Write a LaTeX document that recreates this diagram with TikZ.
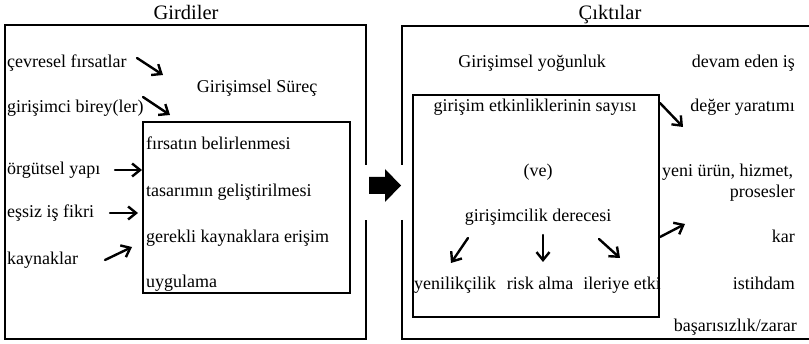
\documentclass[tikz,border=0pt]{standalone}
\usepackage{fontspec}
\setmainfont{Liberation Serif}
\usetikzlibrary{arrows.meta}
\begin{document}
\begin{tikzpicture}[x=1pt,y=-1pt,
  lbl/.style={font=\fontsize{18}{21}\selectfont, inner sep=0pt},
  ttl/.style={font=\fontsize{20.5}{24}\selectfont, inner sep=0pt},
  frame/.style={line width=2.3pt},
  flow/.style={line width=2.4pt, line cap=round, -{Straight Barb[length=8pt,width=13pt,line width=2.4pt]}}]
\useasboundingbox (0,0) rectangle (809,344);

% outer frames, opened where the block arrow passes
\draw[frame] (366,165) -- (366,25) -- (5,25) -- (5,339) -- (366,339) -- (366,220);
\draw[frame] (402,165) -- (402,26) -- (812,26);
\draw[frame] (402,220) -- (402,339) -- (812,339);

% inner boxes
\draw[frame] (143,122) rectangle (350,293);
\draw[frame] (413,95) rectangle (659,317);

% block arrow between the frames
\fill (369,177) -- (385,177) -- (385,169) -- (401,185.5) -- (385,202) -- (385,194) -- (369,194) -- cycle;

% titles
\node[ttl, anchor=base] (tin) at (186,20) {Girdiler};
\node[ttl, anchor=base] (tout) at (610,20) {Çıktılar};

% inputs
\node[lbl, anchor=base west] (i1) at (7,68) {çevresel fırsatlar};
\node[lbl, anchor=base west] (i2) at (7,113) {girişimci birey(ler)};
\node[lbl, anchor=base west] (i3) at (7,175) {örgütsel yapı};
\node[lbl, anchor=base west] (i4) at (7,218) {eşsiz iş fikri};
\node[lbl, anchor=base west] (i5) at (7,265) {kaynaklar};
\node[lbl, anchor=base] (proc) at (257,93) {Girişimsel Süreç};

% process steps
\node[lbl, anchor=base west] (p1) at (146,150) {fırsatın belirlenmesi};
\node[lbl, anchor=base west] (p2) at (146,197) {tasarımın geliştirilmesi};
\node[lbl, anchor=base west] (p3) at (146,243) {gerekli kaynaklara erişim};
\node[lbl, anchor=base west] (p4) at (146,288) {uygulama};

% input arrows
\draw[flow] (137,58) -- (163,75);
\draw[flow] (143,97) -- (170,115);
\draw[flow] (115,170) -- (142,170);
\draw[flow] (110,213) -- (138,213);
\draw[flow] (105,260) -- (132,247);

% intensity side
\node[lbl, anchor=base] (int) at (532,68) {Girişimsel yoğunluk};
\node[lbl, anchor=base] (num) at (535,112) {girişim etkinliklerinin sayısı};
\node[lbl, anchor=base] (and) at (538,177) {(ve)};
\node[lbl, anchor=base] (deg) at (538,222) {girişimcilik derecesi};
\node[lbl, anchor=base] (d1) at (455,290) {yenilikçilik};
\node[lbl, anchor=base] (d2) at (540,290) {risk alma};
\node[lbl, anchor=base] (d3) at (622,290) {ileriye etki};
\draw[flow] (468,238) -- (451,263);
\draw[flow] (543,235) -- (543,262);
\draw[flow] (599,239) -- (620,258);

% outcomes
\node[lbl, anchor=base east] (o1) at (795,68) {devam eden iş};
\node[lbl, anchor=base east] (o2) at (795,112) {değer yaratımı};
\node[lbl, anchor=base west] (o3) at (662,177) {yeni ürün, hizmet,};
\node[lbl, anchor=base east] (o3b) at (795,198) {prosesler};
\node[lbl, anchor=base east] (o4) at (795,243) {kar};
\node[lbl, anchor=base east] (o5) at (795,290) {istihdam};
\node[lbl, anchor=base east] (o6) at (797,332) {başarısızlık/zarar};
\draw[flow] (660,103) -- (683,127);
\draw[flow] (660,237) -- (685,224);
\end{tikzpicture}
\end{document}
